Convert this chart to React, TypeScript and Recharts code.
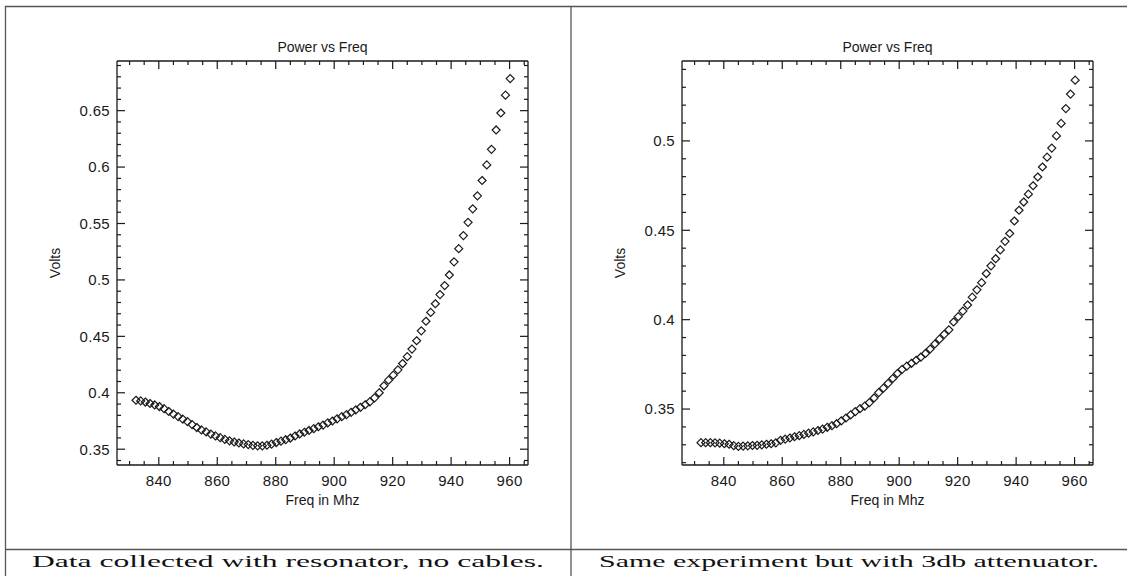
import React from 'react';
import { ScatterChart, Scatter, XAxis, YAxis } from 'recharts';

// one sweep, ~1.6 MHz apart
const freqMhz = [
  832.2, 833.8, 835.4, 837.0, 838.6, 840.2, 841.8, 843.4, 845.0, 846.6,
  848.2, 849.8, 851.4, 853.0, 854.6, 856.2, 857.8, 859.4, 861.0, 862.6,
  864.2, 865.8, 867.4, 869.0, 870.6, 872.2, 873.8, 875.4, 877.0, 878.6,
  880.2, 881.8, 883.4, 885.0, 886.6, 888.2, 889.8, 891.4, 893.0, 894.6,
  896.2, 897.8, 899.4, 901.0, 902.6, 904.2, 905.8, 907.4, 909.0, 910.6,
  912.2, 913.8, 915.4, 917.0, 918.6, 920.2, 921.8, 923.4, 925.0, 926.6,
  928.2, 929.8, 931.4, 933.0, 934.6, 936.2, 937.8, 939.4, 941.0, 942.6,
  944.2, 945.8, 947.4, 949.0, 950.6, 952.2, 953.8, 955.4, 957.0, 958.6,
  960.2,
];

// resonator, no cables
const voltsResonator = [
  0.3934, 0.3928, 0.3918, 0.3905, 0.3892, 0.3878, 0.3859, 0.3834, 0.3811, 0.3789,
  0.3767, 0.3745, 0.3718, 0.3692, 0.3671, 0.3653, 0.3634, 0.3618, 0.3602, 0.3587,
  0.3574, 0.3564, 0.3555, 0.3547, 0.3541, 0.3534, 0.3530, 0.3530, 0.3535, 0.3545,
  0.3559, 0.3571, 0.3584, 0.3599, 0.3617, 0.3635, 0.3650, 0.3666, 0.3682, 0.3699,
  0.3714, 0.3733, 0.3750, 0.3769, 0.3788, 0.3806, 0.3827, 0.3849, 0.3871, 0.3894,
  0.3920, 0.3955, 0.4000, 0.4062, 0.4112, 0.4156, 0.4203, 0.4259, 0.4320, 0.4387,
  0.4461, 0.4549, 0.4634, 0.4712, 0.4789, 0.4870, 0.4950, 0.5044, 0.5160, 0.5277,
  0.5393, 0.5510, 0.5630, 0.5745, 0.5881, 0.6019, 0.6157, 0.6329, 0.6479, 0.6637,
  0.6784,
];

// same sweep with the 3db attenuator
const voltsAttenuator = [
  0.3312, 0.3312, 0.3312, 0.3311, 0.3309, 0.3306, 0.3303, 0.3295, 0.3291, 0.3293,
  0.3294, 0.3296, 0.3297, 0.3300, 0.3303, 0.3306, 0.3311, 0.3325, 0.3332, 0.3338,
  0.3345, 0.3351, 0.3358, 0.3365, 0.3372, 0.3380, 0.3388, 0.3398, 0.3407, 0.3418,
  0.3434, 0.3450, 0.3467, 0.3486, 0.3502, 0.3516, 0.3536, 0.3562, 0.3592, 0.3617,
  0.3644, 0.3671, 0.3699, 0.3722, 0.3740, 0.3756, 0.3773, 0.3790, 0.3811, 0.3836,
  0.3864, 0.3891, 0.3918, 0.3943, 0.3987, 0.4017, 0.4048, 0.4082, 0.4126, 0.4167,
  0.4207, 0.4258, 0.4301, 0.4341, 0.4390, 0.4438, 0.4482, 0.4552, 0.4612, 0.4658,
  0.4702, 0.4749, 0.4798, 0.4854, 0.4909, 0.4960, 0.5028, 0.5098, 0.5181, 0.5262,
  0.5340,
];

const freqTicks = [
  830, 835, 840, 845, 850, 855, 860, 865, 870, 875, 880, 885, 890, 895,
  900, 905, 910, 915, 920, 925, 930, 935, 940, 945, 950, 955, 960, 965,
];
const freqLabels = [840, 860, 880, 900, 920, 940, 960];

const voltsTicksResonator = [
  0.34, 0.35, 0.36, 0.37, 0.38, 0.39, 0.40, 0.41, 0.42, 0.43, 0.44, 0.45,
  0.46, 0.47, 0.48, 0.49, 0.50, 0.51, 0.52, 0.53, 0.54, 0.55, 0.56, 0.57,
  0.58, 0.59, 0.60, 0.61, 0.62, 0.63, 0.64, 0.65, 0.66, 0.67, 0.68, 0.69,
];
const voltsLabelsResonator = [0.35, 0.4, 0.45, 0.5, 0.55, 0.6, 0.65];

const voltsTicksAttenuator = [
  0.32, 0.33, 0.34, 0.35, 0.36, 0.37, 0.38, 0.39, 0.40, 0.41, 0.42, 0.43,
  0.44, 0.45, 0.46, 0.47, 0.48, 0.49, 0.50, 0.51, 0.52, 0.53, 0.54,
];
const voltsLabelsAttenuator = [0.35, 0.4, 0.45, 0.5];

const captions = [
  'Data collected with resonator, no cables.',
  'Same experiment but with 3db attenuator.',
];

const FONT = '"Liberation Sans", Arial, Helvetica, sans-serif';
const SERIF = '"Liberation Serif", "DejaVu Serif", serif';
const INK = '#1a1a1a';
const RULE = '#555';

type Side = 'left' | 'right' | 'top' | 'bottom';

const isLabelled = (v: number, labels: number[]) => labels.some((l) => Math.abs(l - v) < 1e-6);

// IDL style ticks: all drawn inward, labels only on left / bottom
function boxTick(side: Side, labels: number[]) {
  return (props: any) => {
    const { x, y, payload } = props;
    const v = payload.value as number;
    const major = isLabelled(v, labels);
    const len = major ? 8 : 4;
    let x2 = x;
    let y2 = y;
    if (side === 'left') x2 = x + len;
    if (side === 'right') x2 = x - len;
    if (side === 'top') y2 = y + len;
    if (side === 'bottom') y2 = y - len;
    return (
      <g>
        <line x1={x} y1={y} x2={x2} y2={y2} stroke={INK} strokeWidth={1.2} />
        {major && side === 'left' && (
          <text x={x - 7} y={y} dy="0.36em" textAnchor="end" fontFamily={FONT} fontSize={15}
            fill={INK} style={{ letterSpacing: '0.3px' }}>
            {String(+v.toFixed(2))}
          </text>
        )}
        {major && side === 'bottom' && (
          <text x={x} y={y + 16} dy="0.36em" textAnchor="middle" fontFamily={FONT} fontSize={15}
            fill={INK} style={{ letterSpacing: '0.3px' }}>
            {String(v)}
          </text>
        )}
      </g>
    );
  };
}

const Diamond = (props: any) => {
  const { cx, cy } = props;
  const r = 4;
  return (
    <path
      d={`M${cx},${cy - r}L${cx + r},${cy}L${cx},${cy + r}L${cx - r},${cy}Z`}
      fill="none"
      stroke={INK}
      strokeWidth={1.2}
    />
  );
};

const Nothing = () => <g />;

const axisLine = { stroke: INK, strokeWidth: 1.3 };

interface PowerPlotProps {
  volts: number[];
  yDomain: [number, number];
  yTicks: number[];
  yLabels: number[];
}

function PowerPlot({ volts, yDomain, yTicks, yLabels }: PowerPlotProps) {
  const data = freqMhz.map((f, i) => ({ freq: f, volts: volts[i] }));
  const xDomain: [number, number] = [825.7, 966.3];
  return (
    <ScatterChart width={566} height={540} margin={{ top: 60, right: 37, bottom: 30, left: 0 }}>
      <XAxis
        xAxisId="b"
        type="number"
        dataKey="freq"
        orientation="bottom"
        height={45}
        domain={xDomain}
        allowDataOverflow
        ticks={freqTicks}
        interval={0}
        tickSize={0}
        tickMargin={0}
        tickLine={false}
        tick={boxTick('bottom', freqLabels)}
        axisLine={axisLine}
        label={{
          content: (p: any) => {
            const vb = p.viewBox ?? { x: 117, y: 465, width: 411, height: 45 };
            return (
              <text x={vb.x + vb.width / 2} y={vb.y + 35} dy="0.36em" textAnchor="middle"
                fontFamily={FONT} fontSize={14} fill={INK}>
                Freq in Mhz
              </text>
            );
          },
        }}
      />
      <XAxis
        xAxisId="t"
        type="number"
        dataKey="freq"
        orientation="top"
        height={1}
        domain={xDomain}
        allowDataOverflow
        ticks={freqTicks}
        interval={0}
        tickSize={0}
        tickMargin={0}
        tickLine={false}
        tick={boxTick('top', freqLabels)}
        axisLine={axisLine}
        label={{
          content: (p: any) => {
            const vb = p.viewBox ?? { x: 117, y: 60, width: 411, height: 1 };
            return (
              <text x={vb.x + vb.width / 2} y={vb.y - 13} dy="0.36em" textAnchor="middle"
                fontFamily={FONT} fontSize={14} fill={INK}>
                Power vs Freq
              </text>
            );
          },
        }}
      />
      <YAxis
        yAxisId="l"
        type="number"
        dataKey="volts"
        orientation="left"
        width={117}
        domain={yDomain}
        allowDataOverflow
        ticks={yTicks}
        interval={0}
        tickSize={0}
        tickMargin={0}
        tickLine={false}
        tick={boxTick('left', yLabels)}
        axisLine={axisLine}
        label={{
          content: (p: any) => {
            const vb = p.viewBox ?? { x: 0, y: 61, width: 117, height: 404 };
            const cx = vb.x + vb.width - 62;
            const cy = vb.y + vb.height / 2;
            return (
              <text x={cx} y={cy} dy="0.36em" textAnchor="middle" transform={`rotate(-90 ${cx} ${cy})`}
                fontFamily={FONT} fontSize={14} fill={INK}>
                Volts
              </text>
            );
          },
        }}
      />
      <YAxis
        yAxisId="r"
        type="number"
        dataKey="volts"
        orientation="right"
        width={1}
        domain={yDomain}
        allowDataOverflow
        ticks={yTicks}
        interval={0}
        tickSize={0}
        tickMargin={0}
        tickLine={false}
        tick={boxTick('right', yLabels)}
        axisLine={axisLine}
      />
      <Scatter xAxisId="t" yAxisId="r" data={data} shape={Nothing} isAnimationActive={false} />
      <Scatter xAxisId="b" yAxisId="l" data={data} shape={Diamond} isAnimationActive={false} />
    </ScatterChart>
  );
}

export default function App() {
  return (
    <div style={{ position: 'absolute', left: 0, top: 0, width: 1127, height: 576, background: '#fff', overflow: 'hidden' }}>
      <svg width={1127} height={576} style={{ position: 'absolute', left: 0, top: 0 }}>
        <line x1={5} y1={6.5} x2={1127} y2={6.5} stroke={RULE} strokeWidth={1.3} />
        <line x1={5.5} y1={6} x2={5.5} y2={576} stroke={RULE} strokeWidth={1.3} />
        <line x1={571} y1={6} x2={571} y2={576} stroke={RULE} strokeWidth={1.3} />
        <line x1={5} y1={549.5} x2={1127} y2={549.5} stroke={RULE} strokeWidth={1.3} />
        <text x={288} y={567} textAnchor="middle" fontFamily={SERIF}
          fontSize={17} fill="#111" textLength={512} lengthAdjust="spacingAndGlyphs">
          {captions[0]}
        </text>
        <text x={849} y={567} textAnchor="middle" fontFamily={SERIF}
          fontSize={17} fill="#111" textLength={500} lengthAdjust="spacingAndGlyphs">
          {captions[1]}
        </text>
      </svg>
      <div style={{ position: 'absolute', left: 0, top: 0 }}>
        <PowerPlot
          volts={voltsResonator}
          yDomain={[0.336, 0.694]}
          yTicks={voltsTicksResonator}
          yLabels={voltsLabelsResonator}
        />
      </div>
      <div style={{ position: 'absolute', left: 565, top: 0 }}>
        <PowerPlot
          volts={voltsAttenuator}
          yDomain={[0.3187, 0.5447]}
          yTicks={voltsTicksAttenuator}
          yLabels={voltsLabelsAttenuator}
        />
      </div>
    </div>
  );
}
